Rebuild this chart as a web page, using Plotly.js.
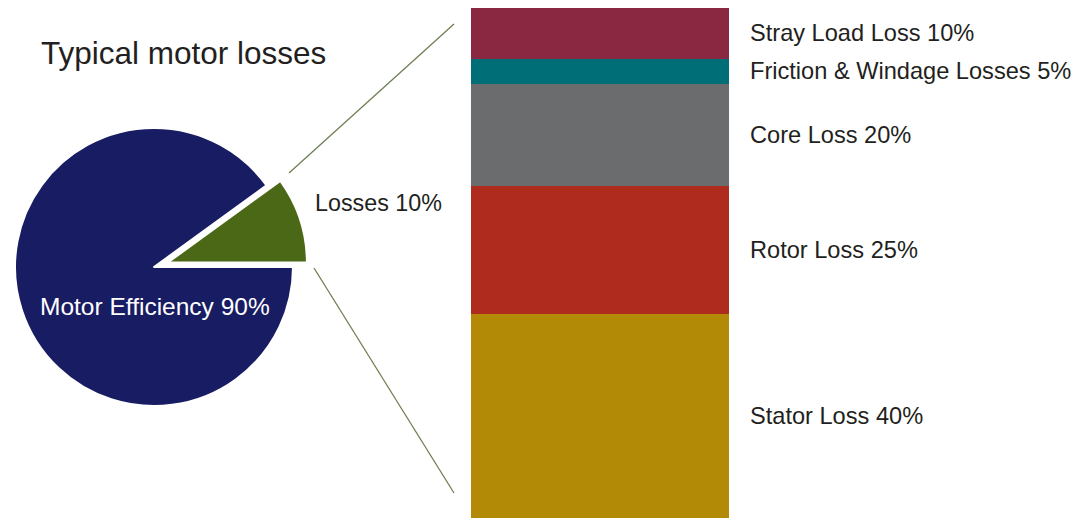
<!DOCTYPE html>
<html>
<head>
<meta charset="utf-8">
<script src="https://cdn.plot.ly/plotly-3.0.1.min.js"></script>
<style>html,body{margin:0;padding:0;background:#fff;}#chart{width:1090px;height:518px;}</style>
</head>
<body>
<div id="chart"></div>
<script>
// Pie data
const pieLabels = ["Losses", "Motor Efficiency"];
const pieValues = [10, 90];
const pieColors = ["#4a6815", "#181c62"];
const piePull = [0.105, 0];

// Breakdown of losses (bottom to top)
const lossNames = ["Stator Loss", "Rotor Loss", "Core Loss", "Friction & Windage Losses", "Stray Load Loss"];
const lossValues = [40, 25, 20, 5, 10];
const lossColors = ["#b28a05", "#ae2b1d", "#6b6c6e", "#006e76", "#8a2841"];

const titleText = "Typical motor losses";
const FONT = "Liberation Sans, Arial, Helvetica, sans-serif";

const traces = [];
traces.push({
  type: "pie",
  labels: pieLabels,
  values: pieValues,
  sort: false,
  direction: "counterclockwise",
  rotation: 54,
  pull: piePull,
  marker: {colors: pieColors, line: {color: "#ffffff", width: 2}},
  textinfo: "none",
  hoverinfo: "label+percent",
  showlegend: false,
  domain: {x: [0.0004, 0.2822], y: [0.188, 0.781]}
});

lossNames.forEach((n, i) => {
  traces.push({
    type: "bar",
    x: ["Losses"],
    y: [lossValues[i]],
    name: n,
    marker: {color: lossColors[i], line: {width: 0}},
    xaxis: "x2",
    yaxis: "y2",
    showlegend: false,
    hoverinfo: "name+y"
  });
});

const annotations = [];
annotations.push({
  xref: "paper", yref: "paper", x: 39/1090, y: 1 - 53/518,
  xanchor: "left", yanchor: "middle", showarrow: false,
  text: titleText, font: {family: FONT, size: 31.5, color: "#231f20"}
});
annotations.push({
  xref: "paper", yref: "paper", x: 155/1090, y: 1 - 306/518,
  xanchor: "center", yanchor: "middle", showarrow: false,
  text: pieLabels[1] + " " + pieValues[1] + "%", font: {family: FONT, size: 24.5, color: "#ffffff"}
});
annotations.push({
  xref: "paper", yref: "paper", x: 313/1090, y: 1 - 203/518,
  xanchor: "left", yanchor: "middle", showarrow: false,
  text: pieLabels[0] + " " + pieValues[0] + "%", font: {family: FONT, size: 23.3, color: "#231f20"}
});
let cum = 0;
lossNames.forEach((n, i) => {
  const mid = cum + lossValues[i] / 2;
  cum += lossValues[i];
  annotations.push({
    xref: "paper", yref: "y2", x: 748/1090, y: mid,
    xanchor: "left", yanchor: "middle", showarrow: false,
    text: n + " " + lossValues[i] + "%", font: {family: FONT, size: 23.6, color: "#231f20"}
  });
});

const lineColor = "#6e7f52";
const shapes = [
  {type: "line", xref: "paper", yref: "paper", x0: 289/1090, y0: 1 - 173/518, x1: 454/1090, y1: 1 - 24/518, line: {color: lineColor, width: 1.3}},
  {type: "line", xref: "paper", yref: "paper", x0: 314/1090, y0: 1 - 268/518, x1: 454/1090, y1: 1 - 493/518, line: {color: lineColor, width: 1.3}}
];

const layout = {
  width: 1090, height: 518,
  margin: {l: 0, r: 0, t: 0, b: 0},
  paper_bgcolor: "#ffffff", plot_bgcolor: "#ffffff",
  barmode: "stack", bargap: 0,
  xaxis2: {domain: [471/1090, 729/1090], anchor: "y2", visible: false, fixedrange: true},
  yaxis2: {domain: [0, 1 - 7.5/518], anchor: "x2", range: [0, 100], visible: false, fixedrange: true},
  annotations: annotations,
  shapes: shapes,
  font: {family: FONT}
};

Plotly.newPlot("chart", traces, layout, {displayModeBar: false, staticPlot: true});
</script>
</body>
</html>
